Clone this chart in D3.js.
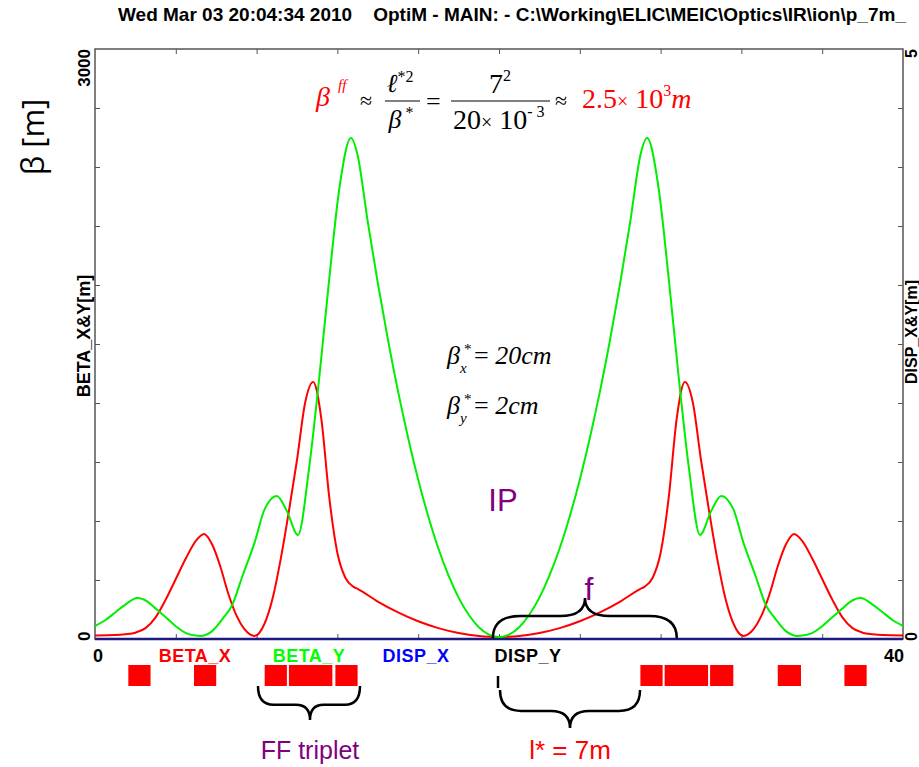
<!DOCTYPE html>
<html>
<head>
<meta charset="utf-8">
<script src="https://cdn.jsdelivr.net/npm/d3@7"></script>
<style>
  body { margin: 0; background: #fff; }
  svg { display: block; }
  text { white-space: pre; }
</style>
</head>
<body>
<div id="chart"></div>
<script>
// optics functions along the IR
var betaXs = [0, 1, 1.5, 2, 2.5, 3, 3.5, 4, 4.5, 5, 5.4, 5.8, 6.2, 6.6, 7, 7.4, 7.9, 8.4, 8.8, 9.2, 9.6, 10, 10.4, 10.8, 11.2, 11.6, 12, 12.4, 12.8, 13, 14, 15, 16, 17, 18, 19, 19.5, 20,
              20.5, 21, 22, 23, 24, 25, 26, 27, 27.2, 27.6, 28, 28.4, 28.8, 29.2, 29.6, 30, 30.4, 30.8, 31.2, 31.6, 32.1, 32.6, 33, 33.4, 33.8, 34.2, 34.6, 35, 35.5, 36, 36.5, 37, 37.5, 38, 38.5, 39, 40];
var betaX  = [8, 10, 14, 22, 45, 100, 190, 295, 400, 490, 524, 470, 360, 220, 110, 40, 5, 70, 200, 400, 640, 900, 1190, 1297, 1113, 707, 427, 300, 255, 245, 180, 125, 80, 45, 20, 5, 1.5, 0.2,
              1.5, 5, 20, 45, 80, 125, 180, 245, 255, 300, 427, 707, 1113, 1297, 1190, 900, 640, 400, 200, 70, 5, 40, 110, 220, 360, 470, 524, 490, 400, 295, 190, 100, 45, 22, 14, 10, 8];

var betaYs = [0, 0.5, 1, 1.5, 2.1, 2.6, 3, 3.5, 4, 4.5, 5.2, 5.8, 6.3, 6.8, 7.3, 7.9, 8.4, 9, 9.5, 10.05, 10.6, 11.1, 11.6, 12.1, 12.67, 13, 13.5, 14, 14.5, 15, 15.5, 16, 16.5, 17, 17.5, 18, 18.5, 19, 19.5, 20,
              20.5, 21, 21.5, 22, 22.5, 23, 23.5, 24, 24.5, 25, 25.5, 26, 26.5, 27, 27.33, 27.9, 28.4, 28.9, 29.4, 29.95, 30.5, 31, 31.6, 32.1, 32.7, 33.2, 33.7, 34.2, 34.8, 35.5, 36, 36.5, 37, 37.4, 37.9, 38.5, 39, 39.5, 40];
var betaY  = [56, 85, 125, 165, 198, 180, 145, 100, 55, 20, 5, 30, 90, 165, 310, 480, 650, 717, 640, 519, 860, 1317, 1825, 2283, 2537, 2450, 2113, 1800, 1513, 1250, 1013, 800, 613, 450, 313, 200, 113, 50, 12.5, 0.02,
              12.5, 50, 113, 200, 313, 450, 613, 800, 1013, 1250, 1513, 1800, 2113, 2450, 2537, 2283, 1825, 1317, 860, 519, 640, 717, 650, 480, 310, 165, 90, 30, 5, 20, 55, 100, 145, 180, 198, 165, 125, 85, 56];

var dispS = [0, 40];
var dispX = [0, 0];
var dispY = [0, 0];

// quadrupoles [start, end] in m
var magnets = [[1.65, 2.75], [4.9, 6.0], [8.4, 9.5], [9.6, 11.75], [11.9, 13.0],
               [27.0, 28.1], [28.2, 30.35], [30.45, 31.6], [33.8, 34.95], [37.1, 38.2]];

var legendNames = ["BETA_X", "BETA_Y", "DISP_X", "DISP_Y"];
var legendColors = ["#ff0000", "#00ff00", "#0000ff", "#000000"];

var w = 919, h = 767;
var svg = d3.select("#chart").append("svg")
    .attr("width", w)
    .attr("height", h);

var x = d3.scaleLinear().domain([0, 40]).range([95, 903]);
var y = d3.scaleLinear().domain([0, 3000]).range([639, 49]);
var yR = d3.scaleLinear().domain([0, 5]).range([639, 49]);

var bold = "Liberation Sans, Arial, sans-serif";
var serif = "Liberation Serif, Times New Roman, serif";

// title (runs off the right edge like the original)
svg.append("text")
    .attr("x", 118).attr("y", 21)
    .attr("font-family", bold).attr("font-weight", "bold").attr("font-size", 19)
    .text("Wed Mar 03 20:04:34 2010    OptiM - MAIN: - C:\\Working\\ELIC\\MEIC\\Optics\\IR\\ion\\p_7m_");

// frame
svg.append("rect")
    .attr("x", 95).attr("y", 49).attr("width", 808).attr("height", 590)
    .attr("fill", "none").attr("stroke", "#555").attr("stroke-width", 1.5);

// inward ticks via d3 axes, domain removed
function ticks(g) {
    g.select(".domain").remove();
    g.selectAll("line").attr("stroke", "#555").attr("stroke-width", 1);
}
svg.append("g").attr("transform", "translate(95,0)")
    .call(d3.axisLeft(y).tickValues(d3.range(300, 3000, 300)).tickSizeInner(-5).tickSizeOuter(0).tickFormat(""))
    .call(ticks);
svg.append("g").attr("transform", "translate(903,0)")
    .call(d3.axisRight(yR).tickValues(d3.range(0.5, 5, 0.5)).tickSizeInner(-5).tickSizeOuter(0).tickFormat(""))
    .call(ticks);
svg.append("g").attr("transform", "translate(0,49)")
    .call(d3.axisTop(x).tickValues(d3.range(4, 40, 4)).tickSizeInner(-5).tickSizeOuter(0).tickFormat(""))
    .call(ticks);
svg.append("g").attr("transform", "translate(0,639)")
    .call(d3.axisBottom(x).tickValues(d3.range(4, 40, 4)).tickSizeInner(-5).tickSizeOuter(0).tickFormat(""))
    .call(ticks);

// rotated axis labels
function vtext(tx, ty, str, anchor, size) {
    return svg.append("text")
        .attr("transform", "translate(" + tx + "," + ty + ") rotate(-90)")
        .attr("text-anchor", anchor)
        .attr("font-family", bold).attr("font-weight", "bold").attr("font-size", size || 18)
        .text(str);
}
vtext(90, 49, "3000", "end", 17);
vtext(90, 641, "0", "start", 17);
vtext(90, 336, "BETA_X&Y[m]", "middle");
vtext(917, 49, "5", "end", 16);
vtext(917, 641, "0", "start", 16);
vtext(917, 332, "DISP_X&Y[m]", "middle", 16);

svg.append("text")
    .attr("transform", "translate(44,137) rotate(-90)")
    .attr("text-anchor", "middle")
    .attr("font-family", "Open Sans, sans-serif").attr("font-size", 31)
    .text("β [m]");

// bottom labels and legend
svg.append("text").attr("x", 93).attr("y", 662)
    .attr("font-family", bold).attr("font-weight", "bold").attr("font-size", 18).text("0");
svg.append("text").attr("x", 904).attr("y", 662).attr("text-anchor", "end")
    .attr("font-family", bold).attr("font-weight", "bold").attr("font-size", 18).text("40");
var legendX = [195, 309, 416, 528];
svg.selectAll(".leg").data(legendNames).enter().append("text")
    .attr("x", function(d, i) { return legendX[i]; })
    .attr("y", 662)
    .attr("text-anchor", "middle")
    .attr("fill", function(d, i) { return legendColors[i]; })
    .attr("font-family", bold).attr("font-weight", "bold").attr("font-size", 18)
    .attr("letter-spacing", 0.5)
    .text(function(d) { return d; });

// curves
var line = d3.line()
    .x(function(d) { return x(d[0]); })
    .y(function(d) { return y(d[1]); })
    .curve(d3.curveMonotoneX);
var lineR = d3.line()
    .x(function(d) { return x(d[0]); })
    .y(function(d) { return yR(d[1]); });

svg.append("path").datum(d3.zip(dispS, dispY))
    .attr("d", lineR).attr("fill", "none").attr("stroke", "#000").attr("stroke-width", 2);
svg.append("path").datum(d3.zip(dispS, dispX))
    .attr("d", lineR).attr("fill", "none").attr("stroke", "#1a1a80").attr("stroke-width", 2.5);
svg.append("path").datum(d3.zip(betaXs, betaX))
    .attr("d", line).attr("fill", "none").attr("stroke", "#ff0000").attr("stroke-width", 2)
    .attr("transform", "translate(0,-2)");
svg.append("path").datum(d3.zip(betaYs, betaY))
    .attr("d", line).attr("fill", "none").attr("stroke", "#00ee00").attr("stroke-width", 2)
    .attr("transform", "translate(0,-2)");

// magnet boxes
svg.selectAll(".mag").data(magnets).enter().append("rect")
    .attr("x", function(d) { return x(d[0]); })
    .attr("y", 665)
    .attr("width", function(d) { return x(d[1]) - x(d[0]); })
    .attr("height", 21)
    .attr("fill", "#ff0000");

// curly braces
function brace(x1, x2, tipX, yb, d) {
    var hgt = d * 0.55;
    var r1 = (tipX - x1) * 0.3, r2 = (x2 - tipX) * 0.3;
    return "M" + x1 + "," + yb +
        "Q" + x1 + "," + (yb + hgt) + " " + (x1 + r1) + "," + (yb + hgt) +
        "L" + (tipX - r1 * 0.9) + "," + (yb + hgt) +
        "Q" + tipX + "," + (yb + hgt) + " " + tipX + "," + (yb + d) +
        "Q" + tipX + "," + (yb + hgt) + " " + (tipX + r2 * 0.9) + "," + (yb + hgt) +
        "L" + (x2 - r2) + "," + (yb + hgt) +
        "Q" + x2 + "," + (yb + hgt) + " " + x2 + "," + yb;
}
var braceG = svg.append("g").attr("fill", "none").attr("stroke", "#000").attr("stroke-width", 2.5);
braceG.append("path").attr("d", brace(x(19.7), x(28.8), 585, 638, -40));
braceG.append("path").attr("d", brace(258, 360, 310, 686, 34));
braceG.append("path").attr("d", brace(500, 640, 570, 690, 38));
braceG.append("line").attr("x1", 498).attr("x2", 498).attr("y1", 676).attr("y2", 688);

// annotations
svg.append("text").attr("x", 503).attr("y", 511).attr("text-anchor", "middle")
    .attr("font-family", "Liberation Sans, Arial, sans-serif").attr("font-size", 31).attr("fill", "#800080").text("IP");
svg.append("text").attr("x", 589).attr("y", 600).attr("text-anchor", "middle")
    .attr("font-family", "Liberation Sans, Arial, sans-serif").attr("font-size", 32).attr("fill", "#800080").text("f");
svg.append("text").attr("x", 310).attr("y", 759).attr("text-anchor", "middle")
    .attr("font-family", "Liberation Sans, Arial, sans-serif").attr("font-size", 25).attr("fill", "#800080").text("FF triplet");
svg.append("text").attr("x", 570).attr("y", 759).attr("text-anchor", "middle")
    .attr("font-family", "Liberation Sans, Arial, sans-serif").attr("font-size", 26).attr("fill", "#ff0000").text("l* = 7m");

// formula at the top
var f = svg.append("g").attr("font-family", serif);
f.append("text").attr("x", 316).attr("y", 106).attr("font-size", 28).attr("font-style", "italic").attr("fill", "#ff0000").text("β");
f.append("text").attr("x", 338).attr("y", 90).attr("font-size", 15).attr("font-style", "italic").attr("fill", "#ff0000").text("ff");
f.append("text").attr("x", 360).attr("y", 108).attr("font-size", 22).text("≈");
f.append("text").attr("x", 400).attr("y", 92).attr("text-anchor", "middle").attr("font-size", 26)
    .html('<tspan font-style="italic">ℓ</tspan><tspan font-size="16" dy="-10">*2</tspan>');
f.append("line").attr("x1", 385).attr("x2", 420).attr("y1", 101).attr("y2", 101).attr("stroke", "#000").attr("stroke-width", 1.2);
f.append("text").attr("x", 401).attr("y", 128).attr("text-anchor", "middle").attr("font-size", 26)
    .html('<tspan font-style="italic">β</tspan><tspan font-size="16" dy="-10"> *</tspan>');
f.append("text").attr("x", 426).attr("y", 110).attr("font-size", 26).text("=");
f.append("text").attr("x", 500).attr("y", 93).attr("text-anchor", "middle").attr("font-size", 28)
    .html('7<tspan font-size="16" dy="-12">2</tspan>');
f.append("line").attr("x1", 451).attr("x2", 550).attr("y1", 101).attr("y2", 101).attr("stroke", "#000").attr("stroke-width", 1.2);
f.append("text").attr("x", 453).attr("y", 129).attr("font-size", 28)
    .html('20<tspan font-size="20">×</tspan> 10<tspan font-size="16" dy="-12">- 3</tspan>');
f.append("text").attr("x", 555).attr("y", 108).attr("font-size", 22).text("≈");
f.append("text").attr("x", 582).attr("y", 108).attr("font-size", 28).attr("fill", "#ff0000")
    .html('2.5<tspan font-size="20">×</tspan> 10<tspan font-size="16" dy="-12">3</tspan><tspan font-style="italic" dy="12">m</tspan>');

// beta* values
function betaStar(yb, sub, rest) {
    var t = f.append("text").attr("x", 447).attr("y", yb).attr("font-size", 26);
    t.append("tspan").attr("font-style", "italic").text("β");
    t.append("tspan").attr("font-size", 15).attr("dx", 4).attr("dy", -10).text("*");
    t.append("tspan").attr("font-size", 15).attr("font-style", "italic").attr("x", 460).attr("dy", 19).text(sub);
    t.append("tspan").attr("x", 474).attr("dy", -9).text("= ");
    t.append("tspan").attr("font-style", "italic").text(rest);
}
betaStar(364, "x", "20cm");
betaStar(414, "y", "2cm");
</script>
</body>
</html>
